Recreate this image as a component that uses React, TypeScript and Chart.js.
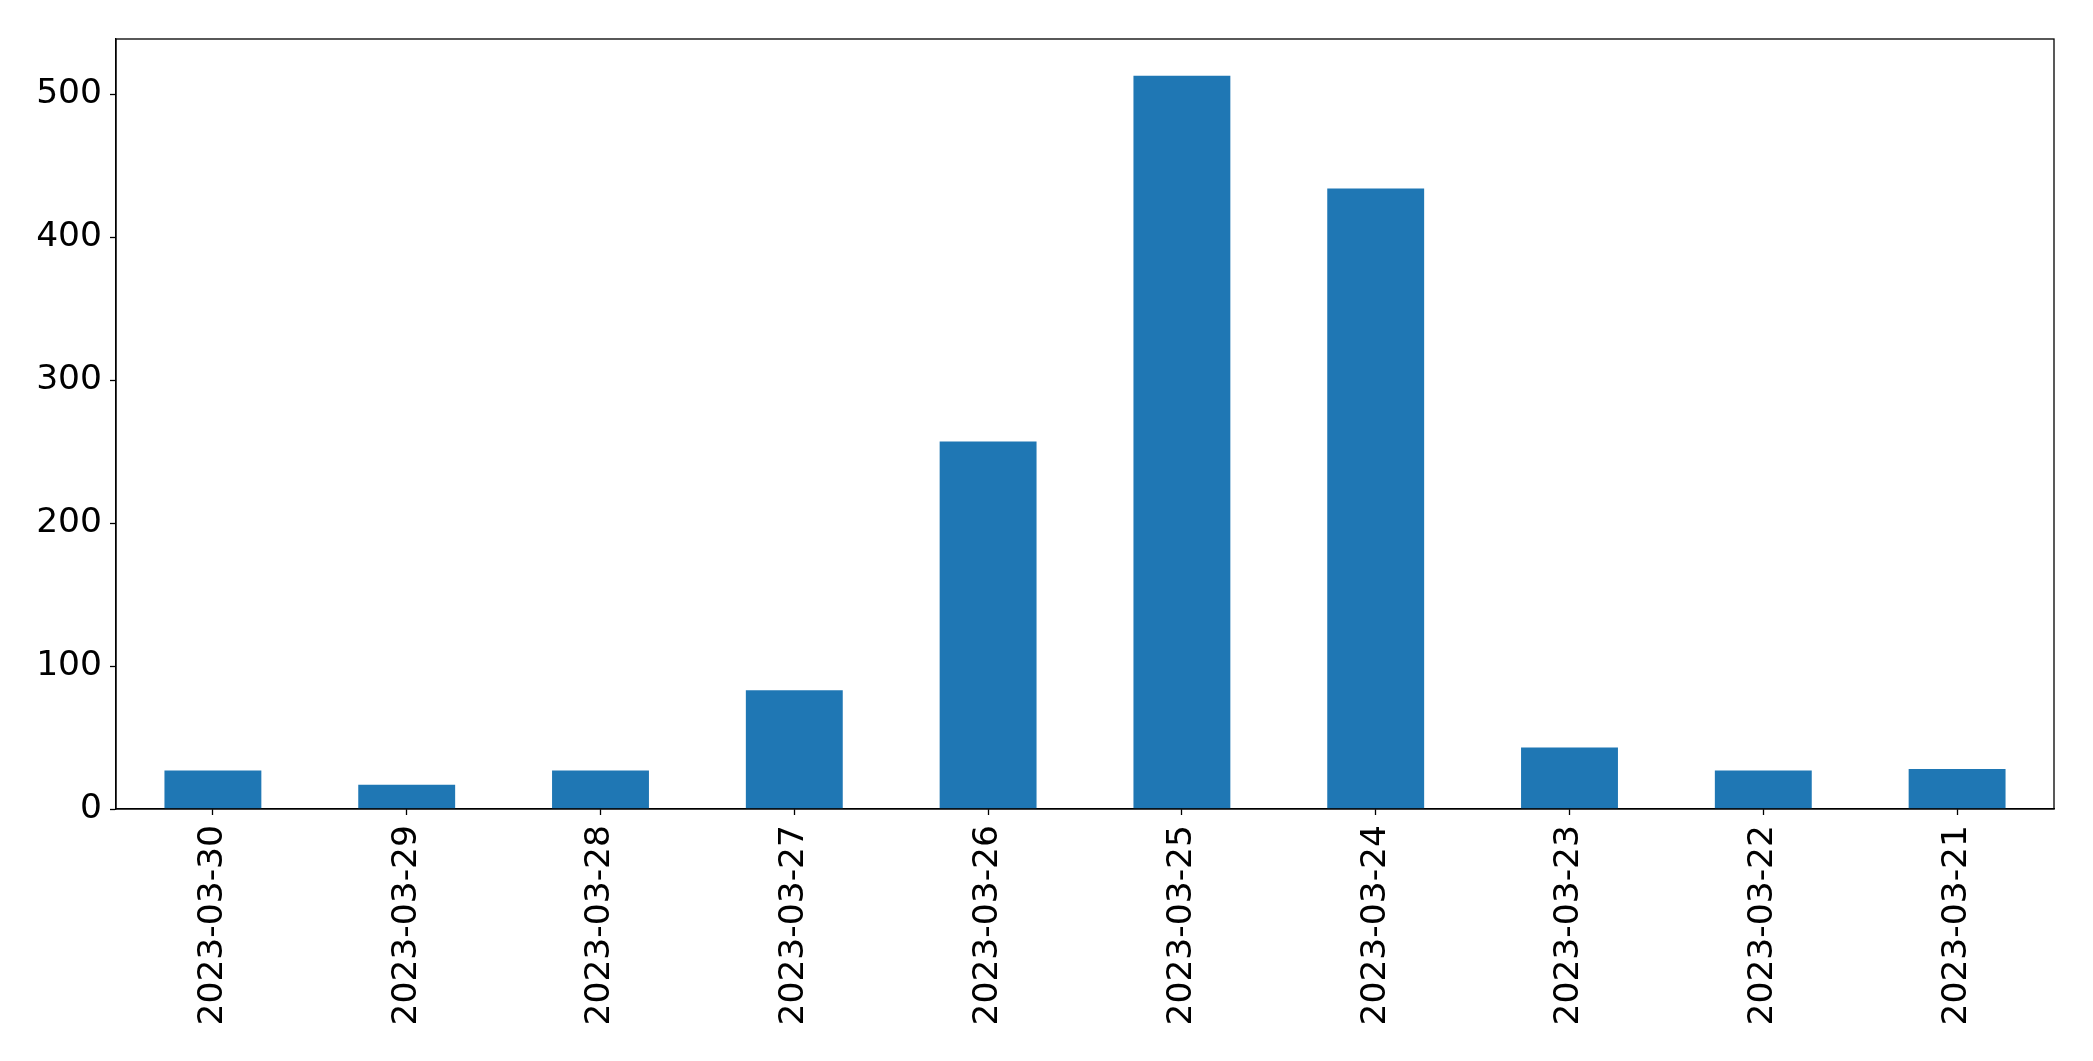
import React, { useEffect, useRef } from "react";
import { Chart, registerables } from "chart.js";

Chart.register(...registerables);

const categories = [
  "2023-03-30",
  "2023-03-29",
  "2023-03-28",
  "2023-03-27",
  "2023-03-26",
  "2023-03-25",
  "2023-03-24",
  "2023-03-23",
  "2023-03-22",
  "2023-03-21",
];
const counts = [27, 17, 27, 83, 257, 513, 434, 43, 27, 28];
const yTicks = [0, 100, 200, 300, 400, 500];
const yMax = 538.65;

const W = 2093;
const H = 1061;

const framePlugin = {
  id: "frame",
  afterDraw(chart: any) {
    const { ctx, chartArea } = chart;
    ctx.save();
    ctx.strokeStyle = "#000";
    ctx.lineWidth = 1.3;
    ctx.strokeRect(chartArea.left, chartArea.top, chartArea.right - chartArea.left, chartArea.bottom - chartArea.top);
    ctx.restore();
  },
};

export default function App() {
  const ref = useRef<HTMLCanvasElement | null>(null);
  useEffect(() => {
    document.body.style.margin = "0";
    const font = { family: "'DejaVu Sans', sans-serif", size: 34.5 };
    const chart = new Chart(ref.current as HTMLCanvasElement, {
      type: "bar",
      data: {
        labels: categories,
        datasets: [
          {
            data: counts,
            backgroundColor: "#1f77b4",
            borderWidth: 0,
            categoryPercentage: 1,
            barPercentage: 0.5,
          },
        ],
      },
      options: {
        animation: false,
        responsive: false,
        maintainAspectRatio: false,
        layout: { padding: { top: 39, right: 39, left: 0, bottom: 0 } },
        plugins: { legend: { display: false }, tooltip: { enabled: false } },
        scales: {
          x: {
            offset: true,
            grid: { display: true, offset: false, drawOnChartArea: false, drawTicks: true, tickLength: 6, color: "#000", tickColor: "#000", tickWidth: 1.3 } as any,
            border: { display: true, color: "#000", width: 1.3 },
            ticks: { font, color: "#000", minRotation: 90, maxRotation: 90, autoSkip: false, padding: 10 },
            afterFit: (s: any) => {
              s.height = H - 809;
            },
          },
          y: {
            min: 0,
            max: yMax,
            afterBuildTicks: (s: any) => {
              s.ticks = yTicks.map((v) => ({ value: v }));
            },
            grid: { display: true, drawOnChartArea: false, drawTicks: true, tickLength: 6, color: "#000", tickColor: "#000", tickWidth: 1.3 } as any,
            border: { display: true, color: "#000", width: 1.3 },
            ticks: { font, color: "#000", padding: 8, includeBounds: false } as any,
            afterFit: (s: any) => {
              s.width = 116;
            },
          },
        },
      },
      plugins: [framePlugin],
    });
    return () => chart.destroy();
  }, []);
  return <canvas ref={ref} width={W} height={H} style={{ display: "block", width: W, height: H }} />;
}
